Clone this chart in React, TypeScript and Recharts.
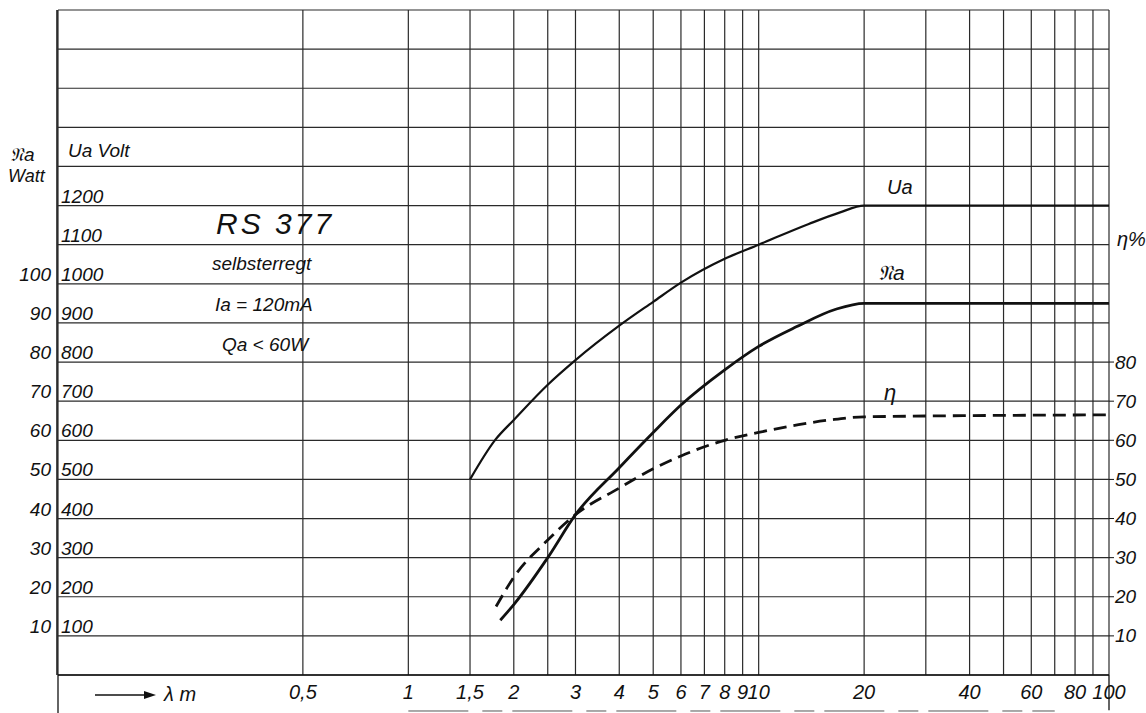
import React from 'react';
import { ComposedChart, Line, XAxis, YAxis, ReferenceLine } from 'recharts';

// Curves (lambda in m)
const uaLambda = [1.5, 1.77, 2, 2.5, 3, 4, 5, 6, 8, 10, 13.9, 17, 20, 100];
const uaVolt = [500, 601, 652, 742, 805, 893, 954, 1003, 1064, 1100, 1153, 1182, 1200, 1200];

const naLambda = [1.83, 2, 2.5, 3, 4, 5, 6, 8, 10, 12.8, 16.6, 20, 100];
const naWatt = [14, 18, 30, 41, 53, 62, 69, 78, 84, 89, 93.5, 95, 95];

const etaLambda = [1.78, 2, 2.5, 3, 4, 5, 6, 8, 10, 13, 16, 20, 100];
const etaPct = [17.5, 25, 34.5, 41, 47.8, 52.7, 56, 60, 62, 64, 65.2, 66, 66.5];

// axes / grid
const xTicks = [0.5, 1, 1.5, 2, 3, 4, 5, 6, 7, 8, 9, 10, 20, 40, 60, 80, 100];
const gridLambda = [0.1, 0.5, 1, 1.5, 2, 2.5, 3, 4, 5, 6, 7, 8, 9, 10, 20, 30, 40, 50, 60, 70, 80, 90, 100];
const gridVolt = [0, 100, 200, 300, 400, 500, 600, 700, 800, 900, 1000, 1100, 1200, 1300, 1400, 1500, 1600, 1700];
const uaTicks = [100, 200, 300, 400, 500, 600, 700, 800, 900, 1000, 1100, 1200];
const naTicks = [10, 20, 30, 40, 50, 60, 70, 80, 90, 100];
const etaTicks = [10, 20, 30, 40, 50, 60, 70, 80];

const uaData = uaLambda.map((x, i) => ({ x, y: uaVolt[i] }));
const naData = naLambda.map((x, i) => ({ x, y: naWatt[i] }));
const etaData = etaLambda.map((x, i) => ({ x, y: etaPct[i] }));

const FONT = "'Liberation Sans', Arial, sans-serif";
const INK = '#111';

const txt: React.CSSProperties = {
  position: 'absolute',
  fontFamily: FONT,
  fontStyle: 'italic',
  color: INK,
  whiteSpace: 'nowrap',
  lineHeight: 1,
};

const fmtNum = (v: number) => String(v).replace('.', ',');

const XTick = (props: any) => {
  const { x, y, payload } = props;
  return (
    <text x={x} y={y + 24} textAnchor="middle" fontFamily={FONT} fontStyle="italic" fontSize={20} fill={INK}>
      {fmtNum(payload.value)}
    </text>
  );
};

const UaTick = (props: any) => {
  const { x, y, payload } = props;
  return (
    <text x={x + 4} y={y - 3} textAnchor="start" fontFamily={FONT} fontStyle="italic" fontSize={19} fill={INK}>
      {payload.value}
    </text>
  );
};

const NaTick = (props: any) => {
  const { x, y, payload } = props;
  return (
    <text x={x - 7} y={y - 3} textAnchor="end" fontFamily={FONT} fontStyle="italic" fontSize={19} fill={INK}>
      {payload.value}
    </text>
  );
};

const EtaTick = (props: any) => {
  const { x, y, payload } = props;
  return (
    <g>
      <line x1={x} x2={x + 5} y1={y} y2={y} stroke={INK} strokeWidth={1} />
      <text x={x + 6} y={y} dominantBaseline="central" textAnchor="start" fontFamily={FONT} fontStyle="italic" fontSize={19} fill={INK}>
        {payload.value}
      </text>
    </g>
  );
};

export default function App() {
  return (
    <div style={{ position: 'absolute', left: 0, top: 0, width: 1146, height: 713, background: '#fff', overflow: 'hidden' }}>
      <ComposedChart width={1146} height={713} margin={{ top: 10, right: 36, bottom: 37, left: 56 }}>
        <XAxis
          dataKey="x"
          type="number"
          scale="log"
          domain={[0.1, 100]}
          allowDataOverflow
          ticks={xTicks}
          interval={0}
          height={1}
          tickSize={0}
          tickMargin={0}
          tickLine={false}
          axisLine={{ stroke: INK, strokeWidth: 1.5 }}
          tick={(p: any) => <XTick {...p} />}
        />
        <YAxis
          yAxisId="ua"
          type="number"
          domain={[0, 1700]}
          ticks={uaTicks}
          interval={0}
          width={1}
          tickSize={0}
          tickMargin={0}
          tickLine={false}
          axisLine={{ stroke: INK, strokeWidth: 1.5 }}
          tick={(p: any) => <UaTick {...p} />}
        />
        <YAxis
          yAxisId="na"
          type="number"
          domain={[0, 170]}
          ticks={naTicks}
          interval={0}
          width={1}
          tickSize={0}
          tickMargin={0}
          tickLine={false}
          axisLine={false}
          tick={(p: any) => <NaTick {...p} />}
        />
        <YAxis
          yAxisId="eta"
          orientation="right"
          type="number"
          domain={[0, 170]}
          ticks={etaTicks}
          interval={0}
          width={1}
          tickSize={0}
          tickMargin={0}
          tickLine={false}
          axisLine={false}
          tick={(p: any) => <EtaTick {...p} />}
        />

        {/* grid */}
        {gridVolt.map((v) => (
          <ReferenceLine key={`h${v}`} yAxisId="ua" y={v} stroke="#2a2a2a" strokeWidth={1.2} />
        ))}
        {gridLambda.map((l) => (
          <ReferenceLine key={`v${l}`} yAxisId="ua" x={l} stroke="#2a2a2a" strokeWidth={1.2} />
        ))}
        {/* border lines running on below the frame */}
        <ReferenceLine yAxisId="ua" segment={[{ x: 0.1, y: 0 }, { x: 0.1, y: -97 }]} ifOverflow="visible" stroke={INK} strokeWidth={1.3} />
        <ReferenceLine yAxisId="ua" segment={[{ x: 100, y: 0 }, { x: 100, y: -90 }]} ifOverflow="visible" stroke={INK} strokeWidth={1.3} />
        <ReferenceLine yAxisId="ua" segment={[{ x: 1, y: -92 }, { x: 70, y: -92 }]} ifOverflow="visible" stroke="#555" strokeWidth={1} strokeDasharray="60 14 20 10" />

        <Line data={uaData} dataKey="y" yAxisId="ua" type="monotone" stroke={INK} strokeWidth={2.2} dot={false} isAnimationActive={false} />
        <Line data={naData} dataKey="y" yAxisId="na" type="monotone" stroke={INK} strokeWidth={2.8} dot={false} isAnimationActive={false} />
        <Line data={etaData} dataKey="y" yAxisId="eta" type="monotone" stroke={INK} strokeWidth={2.8} strokeDasharray="13 7" dot={false} isAnimationActive={false} />
      </ComposedChart>

      {/* axis titles */}
      <div style={{ ...txt, left: 10, top: 145, fontSize: 19 }}>𝔑a</div>
      <div style={{ ...txt, left: 8, top: 167, fontSize: 18 }}>Watt</div>
      <div style={{ ...txt, left: 68, top: 141, fontSize: 19 }}>Ua Volt</div>
      <div style={{ ...txt, left: 1117, top: 229, fontSize: 20 }}>η%</div>

      {/* tube data */}
      <div style={{ ...txt, left: 216, top: 209, fontSize: 30, letterSpacing: 3 }}>RS 377</div>
      <div style={{ ...txt, left: 212, top: 254, fontSize: 19 }}>selbsterregt</div>
      <div style={{ ...txt, left: 215, top: 295, fontSize: 19 }}>Ia = 120mA</div>
      <div style={{ ...txt, left: 222, top: 335, fontSize: 19 }}>Qa &lt; 60W</div>

      {/* curve labels */}
      <div style={{ ...txt, left: 887, top: 177, fontSize: 20 }}>Ua</div>
      <div style={{ ...txt, left: 878, top: 262, fontSize: 21 }}>𝔑a</div>
      <div style={{ ...txt, left: 884, top: 382, fontSize: 22 }}>η</div>

      {/* lambda arrow */}
      <div style={{ position: 'absolute', left: 94, top: 688 }}>
        <svg width={64} height={14}>
          <line x1={1} y1={7} x2={52} y2={7} stroke={INK} strokeWidth={1.6} />
          <polygon points="50,3 62,7 50,11" fill={INK} />
        </svg>
      </div>
      <div style={{ ...txt, left: 164, top: 684, fontSize: 20 }}>λ m</div>
    </div>
  );
}
